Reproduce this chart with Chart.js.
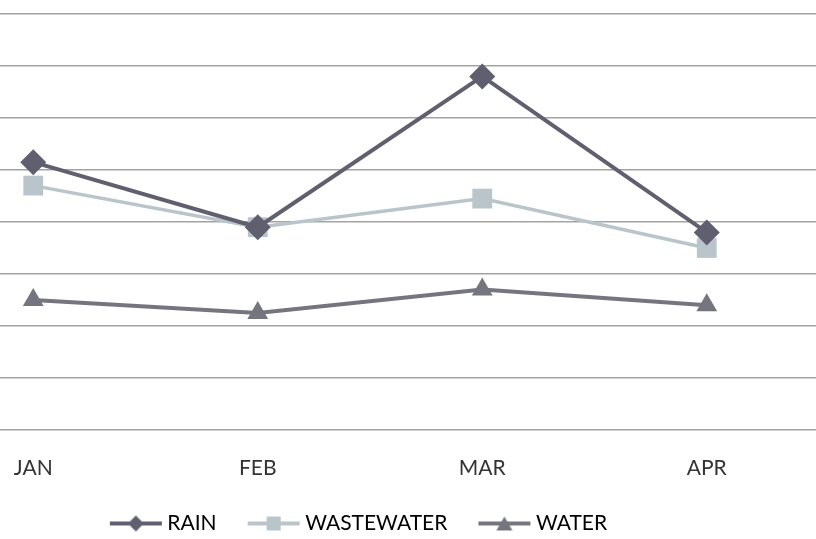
<!DOCTYPE html>
<html>
<head>
<meta charset="utf-8">
<script src="https://cdn.jsdelivr.net/npm/chart.js@4/dist/chart.umd.min.js"></script>
<style>
    html, body { margin: 0; padding: 0; background: #fff; overflow: hidden; }
    #wrap { position: relative; width: 816px; height: 539px; overflow: hidden; }
    #chart { position: absolute; left: -79px; top: 0; }
</style>
</head>
<body>
<div id="wrap"><canvas id="chart" width="898" height="539"></canvas></div>
<script>
// Data
const months = ['JAN', 'FEB', 'MAR', 'APR'];
const rain = [51.5, 39, 68, 38];
const wastewater = [47, 39, 44.5, 35];
const water = [25, 22.5, 27, 24];
const yTicks = [0, 10, 20, 30, 40, 50, 60, 70, 80];

const font = "Lato, 'Noto Sans', sans-serif";

// Legend sample: line with the marker in the middle
function legendImage(color, shape) {
    const c = document.createElement('canvas');
    c.width = 54;
    c.height = 20;
    const ctx = c.getContext('2d');
    ctx.strokeStyle = color;
    ctx.lineWidth = 4;
    ctx.beginPath();
    ctx.moveTo(1, 10);
    ctx.lineTo(53, 10);
    ctx.stroke();
    ctx.fillStyle = color;
    ctx.beginPath();
    if (shape === 'diamond') {
        ctx.moveTo(27, 2); ctx.lineTo(35, 10); ctx.lineTo(27, 18); ctx.lineTo(19, 10);
    } else if (shape === 'square') {
        ctx.rect(20, 3, 14, 14);
    } else {
        ctx.moveTo(27, 3); ctx.lineTo(35, 17); ctx.lineTo(19, 17);
    }
    ctx.closePath();
    ctx.fill();
    return c;
}

const series = [
    { label: 'RAIN', data: rain, color: '#605f6f', style: 'rectRot', radius: 13, width: 4, shape: 'diamond' },
    { label: 'WASTEWATER', data: wastewater, color: '#b9c5ca', style: 'rect', radius: 14, width: 3.5, shape: 'square' },
    { label: 'WATER', data: water, color: '#75757f', style: 'triangle', radius: 12, width: 4, shape: 'triangle' }
];

// nudge the legend a little to the left, as in the original
const legendShift = {
    id: 'legendShift',
    afterLayout(c) {
        c.legend.left -= 9;
        c.legend.right -= 9;
    }
};

const chart = new Chart(document.getElementById('chart'), {
    type: 'line',
    data: {
        labels: months,
        datasets: series.map(s => ({
            label: s.label,
            data: s.data,
            borderColor: s.color,
            backgroundColor: s.color,
            borderWidth: s.width,
            pointStyle: s.style,
            pointRadius: s.radius,
            pointBorderWidth: 0,
            tension: 0
        }))
    },
    plugins: [legendShift],
    options: {
        responsive: false,
        animation: false,
        layout: { autoPadding: false, padding: { top: 14, left: 0, right: 0, bottom: -5 } },
        scales: {
            x: {
                offset: true,
                grid: { display: false, drawTicks: false },
                border: { display: false },
                ticks: { padding: 26, color: '#333', font: { family: font, size: 21 } },
                afterFit: axis => { axis.height = 47; }
            },
            y: {
                min: 0,
                max: 80,
                afterBuildTicks: axis => { axis.ticks = yTicks.map(v => ({ value: v })); },
                grid: { color: '#a3a3a3', lineWidth: 1.5, drawTicks: false },
                border: { display: false },
                ticks: { display: false },
                afterFit: axis => { axis.width = 0; }
            }
        },
        plugins: {
            tooltip: { enabled: false },
            legend: {
                position: 'bottom',
                labels: {
                    usePointStyle: true,
                    pointStyleWidth: 42,
                    padding: 36,
                    color: '#333',
                    font: { family: font, size: 21 },
                    generateLabels: c => series.map((s, i) => ({
                        text: s.label,
                        fillStyle: s.color,
                        strokeStyle: s.color,
                        lineWidth: 0,
                        pointStyle: legendImage(s.color, s.shape),
                        datasetIndex: i,
                        hidden: false
                    }))
                }
            }
        }
    }
});
</script>
</body>
</html>
